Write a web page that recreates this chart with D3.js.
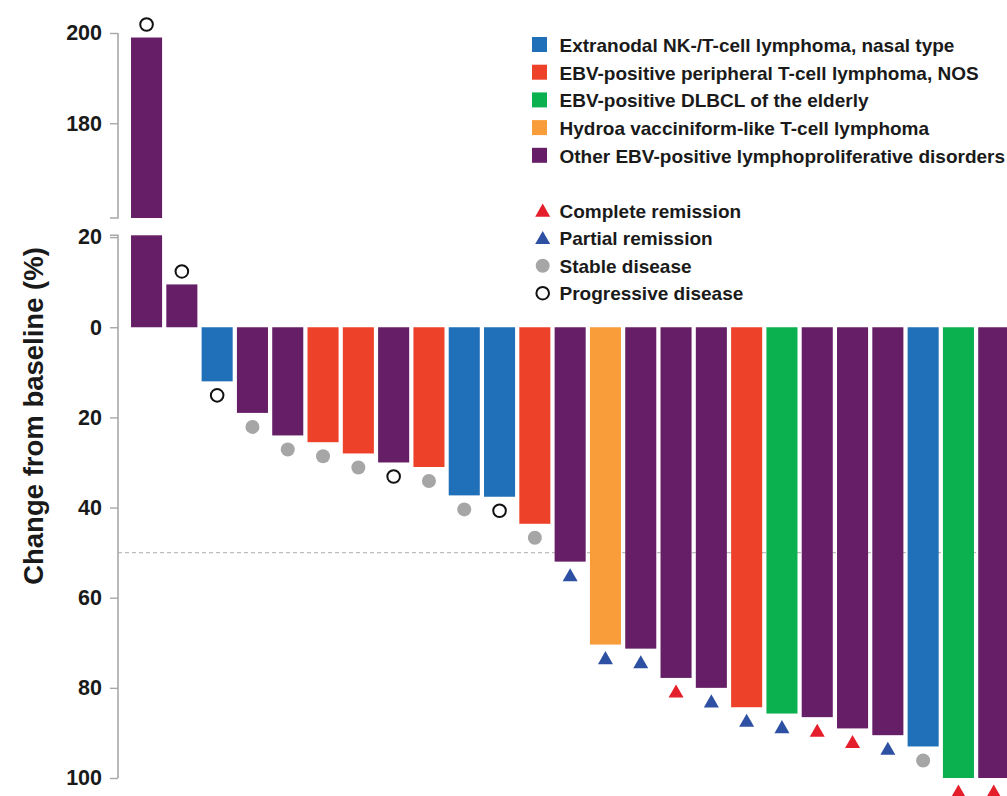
<!DOCTYPE html>
<html><head><meta charset="utf-8">
<script src="https://cdn.jsdelivr.net/npm/d3@7"></script>
<style>
html,body{margin:0;padding:0;background:#fff;}
svg{display:block;font-family:"Liberation Sans",Arial,Helvetica,sans-serif;}
</style></head>
<body>
<svg id="chart" width="1007" height="796"></svg>
<script>
// ---------- data ----------
const patients = d3.range(1, 26).map(String);
const changeValues = [199, 9.5, -12, -19, -24, -25.5, -28, -30, -31, -37.3, -37.6, -43.6, -52,
  -70.4, -71.3, -77.8, -80, -84.3, -85.7, -86.5, -89, -90.5, -93, -100, -100];
const diseaseTypes = ["OTH","OTH","NK","OTH","OTH","PTCL","PTCL","OTH","PTCL","NK","NK","PTCL","OTH",
  "HV","OTH","OTH","OTH","PTCL","DLBCL","OTH","OTH","OTH","NK","DLBCL","OTH"];
const responses = ["PD","PD","PD","SD","SD","SD","SD","PD","SD","SD","PD","SD","PR",
  "PR","PR","CR","PR","PR","PR","CR","CR","PR","SD","CR","CR"];
const typeKeys = ["NK","PTCL","DLBCL","HV","OTH"];
const typeLabels = ["Extranodal NK-/T-cell lymphoma, nasal type","EBV-positive peripheral T-cell lymphoma, NOS",
  "EBV-positive DLBCL of the elderly","Hydroa vacciniform-like T-cell lymphoma","Other EBV-positive lymphoproliferative disorders"];
const typeColors = ["#1f70b8","#ee4129","#0cb14f","#f99d3b","#661f66"];
const responseKeys = ["CR","PR","SD","PD"];
const responseLabels = ["Complete remission","Partial remission","Stable disease","Progressive disease"];
const lowerTicks = [20, 0, -20, -40, -60, -80, -100];
const upperTicks = [200, 180];
const thresholdValue = -50;

// ---------- layout ----------
const svg = d3.select("#chart");
const axisX = 118;
const color = d3.scaleOrdinal().domain(typeKeys).range(typeColors);
const x = d3.scaleBand().domain(patients).range([128.9, 1011.4]).paddingInner(0.12).paddingOuter(0.06);
const yLow = d3.scaleLinear().domain([-100, 20.4]).range([778, 235.3]);
const yUp = d3.scaleLinear().domain([159, 200]).range([218, 33]);
const data = patients.map((p, i) => ({p, v: changeValues[i], t: diseaseTypes[i], r: responses[i]}));

// threshold dashed line
svg.append("line").attr("x1", axisX).attr("x2", 1007)
  .attr("y1", yLow(thresholdValue)).attr("y2", yLow(thresholdValue))
  .attr("stroke", "#bdbdbd").attr("stroke-width", 1.2).attr("stroke-dasharray", "4,3");

// axes
const fmt = d => String(Math.abs(d));
const gLow = svg.append("g").attr("transform", `translate(${axisX},0)`)
  .call(d3.axisLeft(yLow).tickValues(lowerTicks).tickFormat(fmt).tickSize(8).tickPadding(8));
const gUp = svg.append("g").attr("transform", `translate(${axisX},0)`)
  .call(d3.axisLeft(yUp).tickValues(upperTicks).tickFormat(fmt).tickSize(8).tickPadding(8));
[gLow, gUp].forEach(g => {
  g.select(".domain").attr("stroke", "#a8a8a8").attr("stroke-width", 1.6);
  g.selectAll(".tick line").attr("stroke", "#a8a8a8").attr("stroke-width", 1.4);
  g.selectAll(".tick text").attr("font-size", 21.5).attr("font-weight", "bold").attr("fill", "#1a1a1a")
    .attr("font-family", "'Liberation Sans',Arial,sans-serif");
});
gLow.select(".domain").attr("d", `M-8,${yLow.range()[1]}H0V${yLow.range()[0]}`);
gUp.select(".domain").attr("d", `M0,${yUp.range()[1]}V${yUp.range()[0]}H-8`);

// bars
const bars = svg.append("g");
data.forEach(d => {
  if (d.v > yLow.domain()[1]) {
    bars.append("rect").attr("x", x(d.p)).attr("width", x.bandwidth())
      .attr("y", yLow(yLow.domain()[1])).attr("height", yLow(0) - yLow(yLow.domain()[1]))
      .attr("fill", color(d.t));
    bars.append("rect").attr("x", x(d.p)).attr("width", x.bandwidth())
      .attr("y", yUp(d.v)).attr("height", yUp(yUp.domain()[0]) - yUp(d.v))
      .attr("fill", color(d.t));
  } else {
    bars.append("rect").attr("x", x(d.p)).attr("width", x.bandwidth())
      .attr("y", Math.min(yLow(0), yLow(d.v))).attr("height", Math.abs(yLow(d.v) - yLow(0)))
      .attr("fill", color(d.t));
  }
});

// markers
const triRed = "#e41f2b", triBlue = "#2e50a3";
function drawMarker(g, r, cx, cy) {
  if (r === "CR" || r === "PR") {
    const s = 7.5;
    g.append("path").attr("d", `M${cx},${cy - s}L${cx + s},${cy + s * 0.75}L${cx - s},${cy + s * 0.75}Z`)
      .attr("fill", r === "CR" ? triRed : triBlue);
  } else if (r === "SD") {
    g.append("circle").attr("cx", cx).attr("cy", cy).attr("r", 7).attr("fill", "#a6a6a6");
  } else {
    g.append("circle").attr("cx", cx).attr("cy", cy).attr("r", 6.3).attr("fill", "#fff")
      .attr("stroke", "#111").attr("stroke-width", 2);
  }
}
const markers = svg.append("g");
data.forEach(d => {
  const cx = x(d.p) + x.bandwidth() / 2;
  let cy;
  if (d.v > yLow.domain()[1]) cy = yUp(d.v) - 13;
  else if (d.v >= 0) cy = yLow(d.v) - 13;
  else cy = yLow(d.v) + 14;
  drawMarker(markers, d.r, cx, cy);
});

// y title
svg.append("text").attr("transform", `translate(43,416) rotate(-90)`)
  .attr("text-anchor", "middle").attr("font-size", 27.5).attr("font-weight", "bold")
  .attr("fill", "#1a1a1a").text("Change from baseline (%)");

// legend
const leg = svg.append("g");
typeKeys.forEach((k, i) => {
  const cy = 45 + i * 27.7;
  leg.append("rect").attr("x", 532).attr("y", cy - 8).attr("width", 15).attr("height", 15).attr("fill", color(k));
  leg.append("text").attr("x", 559.5).attr("y", cy).attr("dy", "0.36em")
    .attr("font-size", 19).attr("font-weight", "bold").attr("fill", "#1a1a1a").text(typeLabels[i]);
});
responseKeys.forEach((k, i) => {
  const cy = 211 + i * 27.4;
  drawMarker(leg, k, 542.7, cy);
  leg.append("text").attr("x", 559.5).attr("y", cy).attr("dy", "0.36em")
    .attr("font-size", 19).attr("font-weight", "bold").attr("fill", "#1a1a1a").text(responseLabels[i]);
});
</script>
</body></html>
